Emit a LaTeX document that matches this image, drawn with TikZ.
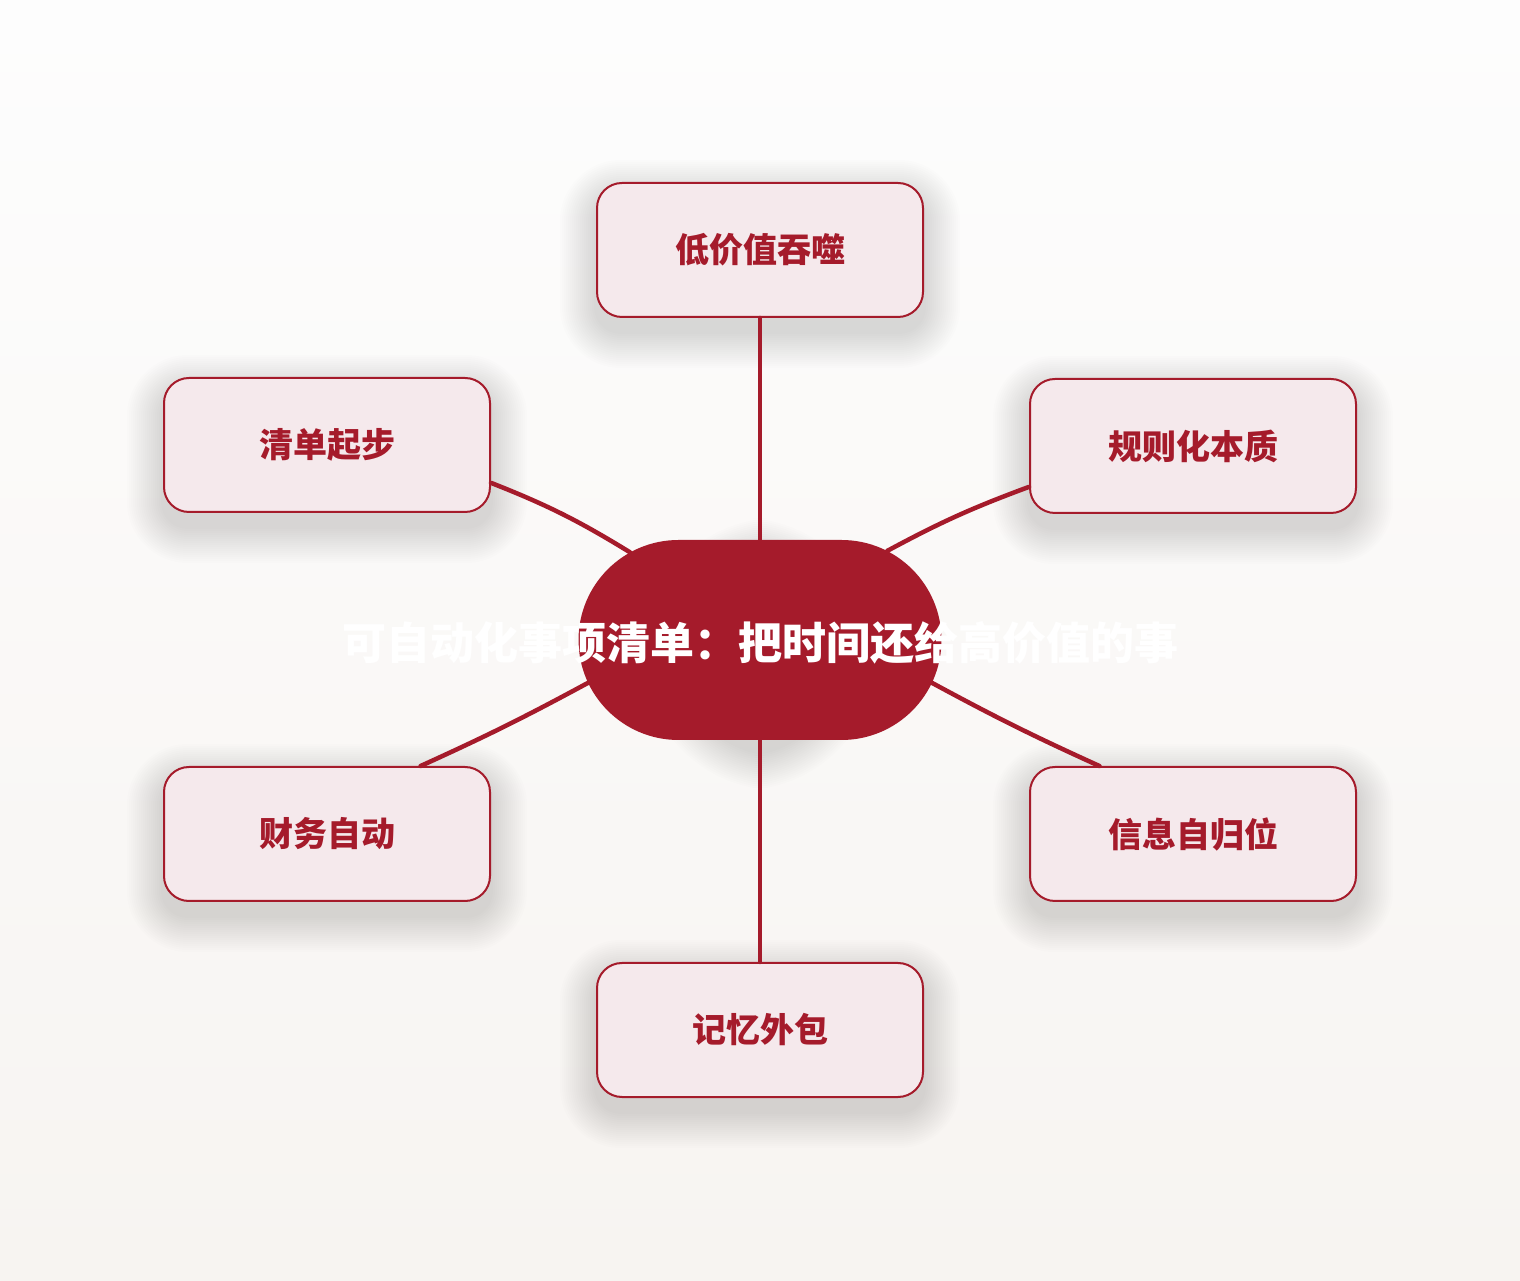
\documentclass[tikz,border=0pt]{standalone}
\usepackage{fontspec}
\newfontfamily\cjk{Noto Sans CJK SC}
\usetikzlibrary{shapes.misc,calc}
\definecolor{dred}{HTML}{A51B2B}
\definecolor{boxfill}{HTML}{F5E9EC}
\definecolor{bgtop}{HTML}{FDFDFD}
\definecolor{bgbot}{HTML}{F7F4F1}
\pgfdeclarelayer{bglayer}
\pgfdeclarelayer{shadowlayer}
\pgfsetlayers{bglayer,shadowlayer,main}
\newcommand\mysoftshadow[2]{%
  \foreach \i in {1,...,18}{%
    \pgfmathsetmacro\dd{\i*2}%
    \pgfmathsetmacro\rr{#2+\i*2}%
    \fill[black,opacity=0.009,rounded corners=\rr pt]
      ($(#1.south west)+(-\dd,-\dd-14)$) rectangle ($(#1.north east)+(\dd,\dd-14)$);
  }%
}
\begin{document}
\begin{tikzpicture}[x=1pt,y=1pt,
  topic/.style={draw=dred, line width=2pt, fill=boxfill, rounded corners=25pt,
    minimum width=326pt, minimum height=134pt, inner sep=0pt, text=dred,
    font=\cjk\bfseries\fontsize{34}{40}\selectfont},
  hub/.style={rounded rectangle, fill=dred, minimum width=363pt, minimum height=200pt,
    inner sep=0pt},
  hubtext/.style={text=white, font=\cjk\bfseries\fontsize{44}{52}\selectfont, inner sep=0pt},
  link/.style={draw=dred, line width=4.5pt, line cap=round}]
\begin{pgfonlayer}{bglayer}
\shade[top color=bgtop, bottom color=bgbot] (0,0) rectangle (1520,1280);
\end{pgfonlayer}
\useasboundingbox (0,0) rectangle (1520,1280);

\node[topic] (top) at (760,1030) {低价值吞噬};
\node[topic] (ul) at (327,835) {清单起步};
\node[topic] (ur) at (1193,834) {规则化本质};
\node[topic] (ll) at (327,446) {财务自动};
\node[topic] (lr) at (1193,446) {信息自归位};
\node[topic] (bot) at (760,250) {记忆外包};
\node[hub] (c) at (760,640) {};

\begin{pgfonlayer}{shadowlayer}
\mysoftshadow{top}{25}
\mysoftshadow{ul}{25}
\mysoftshadow{ur}{25}
\mysoftshadow{ll}{25}
\mysoftshadow{lr}{25}
\mysoftshadow{bot}{25}
\mysoftshadow{c}{100}
\end{pgfonlayer}

\draw[link] (top.south) -- (c.north);
\draw[link] (c.south) -- (bot.north);
\draw[link] (ul.-13) to[bend left=5] (c.146);
\draw[link] (ur.194) to[bend right=4] (c.35);
\draw[link] (ll.36) to[bend right=2] (c.194);
\draw[link] (lr.144) to[bend left=2] (c.-14);

\node[hubtext] (ct) at (760,637) {可自动化事项清单：把时间还给高价值的事};
\end{tikzpicture}
\end{document}
